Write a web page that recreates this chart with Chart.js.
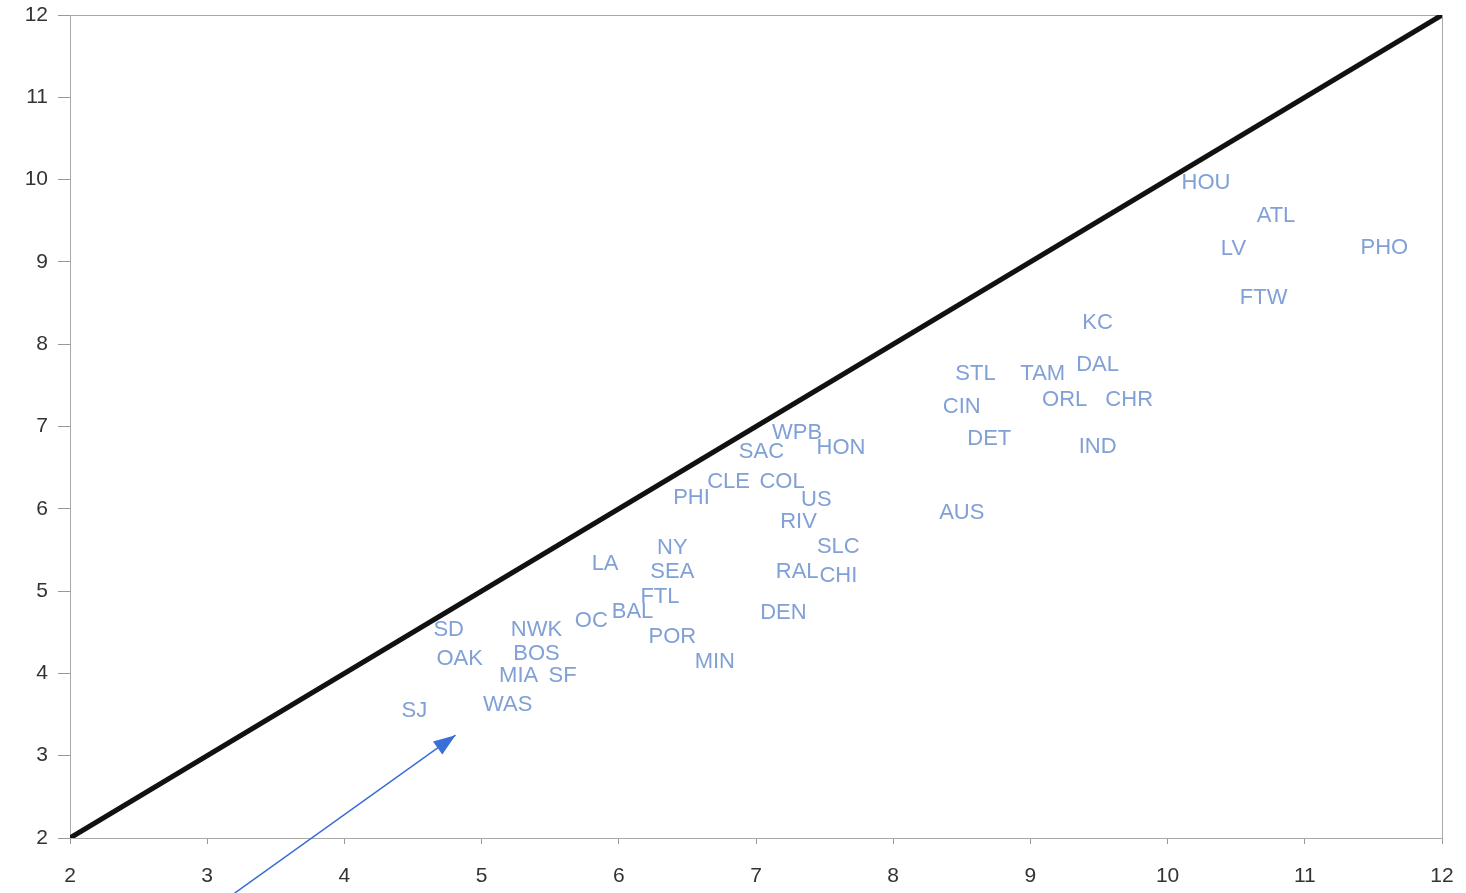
<!DOCTYPE html>
<html>
<head>
<meta charset="utf-8">
<script src="https://cdn.jsdelivr.net/npm/chart.js@4/dist/chart.umd.min.js"></script>
<style>
  html, body { margin: 0; padding: 0; background: #fff; }
  #conteneur { width: 1466px; height: 893px; }
</style>
</head>
<body>
<div id="conteneur"><canvas id="CanvaId"></canvas></div>
<script>
// donnees
const equipes = ["HOU", "ATL", "LV", "PHO", "FTW", "KC", "STL", "TAM", "DAL", "CIN", "ORL", "CHR", "DET", "IND", "AUS",
  "WPB", "SAC", "HON", "CLE", "COL", "PHI", "US", "RIV", "SLC", "NY", "LA", "SEA", "RAL", "CHI", "FTL", "DEN",
  "OC", "BAL", "SD", "NWK", "POR", "OAK", "BOS", "MIN", "MIA", "SF", "WAS", "SJ"];
const valeursX = [10.28, 10.79, 10.48, 11.58, 10.70, 9.49, 8.60, 9.09, 9.49, 8.50, 9.25, 9.72, 8.70, 9.49, 8.50,
  7.30, 7.04, 7.62, 6.80, 7.19, 6.53, 7.44, 7.31, 7.60, 6.39, 5.90, 6.39, 7.30, 7.60, 6.30, 7.20,
  5.80, 6.10, 4.76, 5.40, 6.39, 4.84, 5.40, 6.70, 5.27, 5.59, 5.19, 4.51];
const valeursY = [9.96, 9.56, 9.16, 9.17, 8.56, 8.26, 7.64, 7.64, 7.75, 7.24, 7.32, 7.32, 6.85, 6.75, 5.95,
  6.92, 6.69, 6.74, 6.33, 6.33, 6.13, 6.11, 5.84, 5.54, 5.52, 5.33, 5.23, 5.23, 5.18, 4.93, 4.73,
  4.64, 4.75, 4.53, 4.53, 4.44, 4.17, 4.24, 4.14, 3.97, 3.97, 3.62, 3.54];
const diagonaleX = [2, 12];
const diagonaleY = [2, 12];
const flecheX = [3.2, 4.81];
const flecheY = [1.33, 3.25];
const ticksAxe = [2, 3, 4, 5, 6, 7, 8, 9, 10, 11, 12];

const couleurTexte = "rgb(128, 160, 214)";
const couleurFleche = "rgb(58, 110, 216)";

function versPoints(xs, ys) {
  const points = [];
  for (var i = 0; i < xs.length; i++) {
    points.push({ x: xs[i], y: ys[i] });
  }
  return points;
}

// cadre autour de la zone du graphique + etiquettes + pointe de fleche
const pluginDessin = {
  id: "dessin",
  beforeDatasetsDraw(chart) {
    const ctx = chart.ctx;
    const a = chart.chartArea;
    ctx.save();
    ctx.strokeStyle = "#a8a8a8";
    ctx.lineWidth = 1;
    ctx.strokeRect(a.left + 0.5, a.top + 0.5, a.right - a.left, a.bottom - a.top);
    ctx.restore();
  },
  afterDatasetsDraw(chart) {
    const ctx = chart.ctx;
    const metaEtiquettes = chart.getDatasetMeta(2);
    ctx.save();
    ctx.font = "22px 'Liberation Sans', Arial, sans-serif";
    ctx.fillStyle = couleurTexte;
    ctx.textAlign = "center";
    ctx.textBaseline = "middle";
    metaEtiquettes.data.forEach(function (pt, i) {
      ctx.fillText(equipes[i], pt.x, pt.y);
    });
    // pointe de fleche
    const metaFleche = chart.getDatasetMeta(1);
    const p0 = metaFleche.data[0];
    const p1 = metaFleche.data[1];
    const angle = Math.atan2(p1.y - p0.y, p1.x - p0.x);
    const longueur = 22;
    const largeur = 8;
    ctx.fillStyle = couleurFleche;
    ctx.beginPath();
    ctx.moveTo(p1.x, p1.y);
    ctx.lineTo(p1.x - longueur * Math.cos(angle) + largeur * Math.sin(angle),
      p1.y - longueur * Math.sin(angle) - largeur * Math.cos(angle));
    ctx.lineTo(p1.x - longueur * Math.cos(angle) - largeur * Math.sin(angle),
      p1.y - longueur * Math.sin(angle) + largeur * Math.cos(angle));
    ctx.closePath();
    ctx.fill();
    ctx.restore();
  }
};

const configuration = {
  type: "scatter",
  data: {
    datasets: [
      {
        label: "diagonale",
        data: versPoints(diagonaleX, diagonaleY),
        showLine: true,
        borderColor: "#111",
        borderWidth: 5,
        pointRadius: 0
      },
      {
        label: "fleche",
        data: versPoints(flecheX, flecheY),
        showLine: true,
        borderColor: couleurFleche,
        borderWidth: 1.5,
        pointRadius: 0,
        clip: false
      },
      {
        label: "equipes",
        data: versPoints(valeursX, valeursY),
        pointRadius: 0
      }
    ]
  },
  options: {
    responsive: true,
    maintainAspectRatio: false,
    animation: false,
    layout: { padding: { top: 15, right: 24, left: 0, bottom: 0 } },
    plugins: { legend: { display: false }, tooltip: { enabled: false } },
    scales: {
      x: {
        type: "linear",
        min: 2,
        max: 12,
        afterBuildTicks: function (axe) {
          axe.ticks = ticksAxe.map(function (v) { return { value: v }; });
        },
        afterFit: function (axe) {
          axe.height = 55;
          axe.paddingLeft = 0;
          axe.paddingRight = 0;
        },
        grid: { drawOnChartArea: false, drawTicks: true, tickLength: 6, color: "#999" },
        border: { display: true, color: "#999" },
        ticks: {
          color: "#333",
          font: { family: "'Liberation Sans', Arial, sans-serif", size: 21 },
          padding: 20,
          maxRotation: 0
        }
      },
      y: {
        type: "linear",
        min: 2,
        max: 12,
        afterBuildTicks: function (axe) {
          axe.ticks = ticksAxe.map(function (v) { return { value: v }; });
        },
        afterFit: function (axe) {
          axe.width = 70;
          axe.paddingTop = 0;
          axe.paddingBottom = 0;
        },
        grid: { drawOnChartArea: false, drawTicks: true, tickLength: 12, color: "#999" },
        border: { display: true, color: "#999" },
        ticks: {
          color: "#333",
          font: { family: "'Liberation Sans', Arial, sans-serif", size: 21 },
          padding: 10
        }
      }
    }
  },
  plugins: [pluginDessin]
};

const graphique = document.getElementById("CanvaId");
const chart = new Chart(graphique, configuration);
</script>
</body>
</html>
